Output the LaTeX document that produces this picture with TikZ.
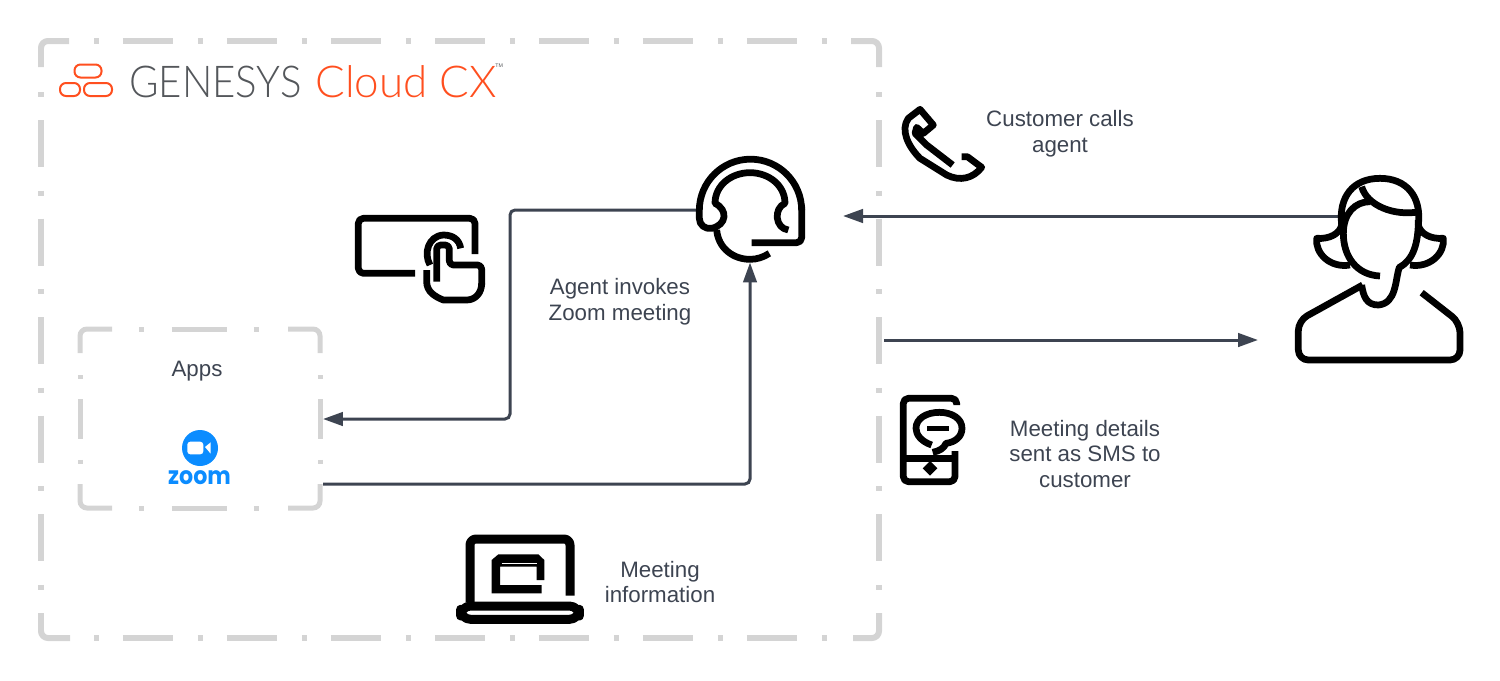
\documentclass[tikz,border=0pt]{standalone}
\usepackage{fontspec}
\setmainfont{Liberation Sans}
\newfontfamily\logofont{Lato Light}
\newfontfamily\zoomfont{Poppins}
\usetikzlibrary{arrows.meta}
\definecolor{framegrey}{HTML}{D4D4D4}
\definecolor{flowgrey}{HTML}{3D4451}
\definecolor{logogrey}{HTML}{54575B}
\definecolor{logoorange}{HTML}{FF4F1F}
\definecolor{zoomblue}{HTML}{0B8CFF}
\tikzset{
  frame/.style={draw=framegrey,line width=.12cm,rounded corners=.14cm},
  framex/.style={draw=framegrey,line width=.12cm,dash pattern=on .1cm off .48cm on 1cm off .5cm},
  framey/.style={draw=framegrey,line width=.12cm,dash pattern=on .1cm off .46cm on .94cm off .472cm},
  appsbox/.style={draw=framegrey,line width=.1cm,rounded corners=.14cm},
  appsx/.style={draw=framegrey,line width=.1cm,dash pattern=on .1cm off .56cm on 1.1cm off .54cm},
  appsy/.style={draw=framegrey,line width=.1cm,dash pattern=on .08cm off .4cm on .8cm off .42cm},
  flow/.style={draw=flowgrey,line width=.06cm,rounded corners=.1cm,-{Triangle[length=.4cm,width=.27cm]}},
  icon/.style={draw=black,line width=.135cm,line join=round,line cap=butt},
  caption/.style={text=flowgrey,align=center,font=\fontsize{12.7}{14.74}\selectfont},
  pill/.style={draw=logoorange,line width=.04cm,rounded corners=.12cm},
  anchorbox/.style={inner sep=0pt,outer sep=0pt}
}
\begin{document}
\begin{tikzpicture}[x=.02cm,y=-.02cm]
\useasboundingbox (0,0) rectangle (1500,680);
% outer frame
\draw[frame] (41,67) -- (41,41) -- (69,41);
\draw[frame] (851,41) -- (879,41) -- (879,67);
\draw[frame] (41,613) -- (41,638) -- (70,638);
\draw[frame] (853,638) -- (879,638) -- (879,613);
\draw[framex] (94,41) -- (827,41);
\draw[framex] (94,638) -- (827,638);
\draw[framey] (41,92) -- (41,590);
\draw[framey] (879,92) -- (879,590);
% apps frame
\draw[appsbox] (80,353) -- (80,329) -- (112,329);
\draw[appsbox] (288,329) -- (320,329) -- (320,353);
\draw[appsbox] (80,484) -- (80,508) -- (112,508);
\draw[appsbox] (288,508) -- (320,508) -- (320,484);
\draw[appsx] (139,329) -- (260,329);
\draw[appsx] (139,508) -- (260,508);
\draw[appsy] (80,375) -- (80,464);
\draw[appsy] (320,375) -- (320,464);
% nodes for the connectors
\node[anchorbox,minimum width=4.8cm,minimum height=3.58cm] (apps) at (200,419) {};
\node[anchorbox,minimum width=2.06cm,minimum height=2.06cm] (agent) at (750,210) {};
\coordinate (turn) at (510,419);
\coordinate (appsout) at (323,484);
\coordinate (custout) at (1338,216);
\coordinate (agentin) at (843,216);
\coordinate (smsout) at (884,340);
\coordinate (custin) at (1258,340);
\draw[flow,shorten >=.06cm] (agent.west) -| (turn) -- (apps.east);
\draw[flow,shorten >=.02cm] (appsout) -| (agent.south);
\draw[flow] (custout) -- (agentin);
\draw[flow] (smsout) -- (custin);
% logo
\draw[pill] (74.5,64.5) rectangle (101.5,77.5);
\draw[pill] (60,83) rectangle (80,96);
\draw[pill] (84,83) rectangle (112,96);
\node[anchor=base west,inner sep=0pt,xscale=.915,text=logogrey,font=\logofont\fontsize{25}{25}\selectfont] (genesys) at (129,97) {GENESYS};
\node[anchor=base west,inner sep=0pt,text=logoorange,font=\logofont\fontsize{25}{25}\selectfont] (cloudcx) at (315,97) {Cloud CX};
\node[anchor=west,inner sep=0pt,text=logogrey,font=\fontsize{3}{3}\selectfont] (tmark) at (495,66) {TM};
% texts
\node[caption] (callstext) at (1060,134) {Customer calls\\agent};
\node[caption] (invoketext) at (620,302) {Agent invokes\\Zoom meeting};
\node[caption] (appstext) at (197,371) {Apps};
\node[caption] (smstext) at (1085,454) {Meeting details\\sent as SMS to\\customer};
\node[caption] (infotext) at (660,582) {Meeting\\information};
% zoom
\fill[zoomblue] (200,448) circle (18);
\fill[white,rounded corners=.06cm] (187.3,441.7) rectangle (203.3,454.3);
\fill[white] (205,447) -- (210.7,442.3) -- (210.7,453.7) -- cycle;
\node[inner sep=0pt,anchor=base,xscale=.9,text=zoomblue,font=\zoomfont\bfseries\fontsize{14}{14}\selectfont] (zoomtext) at (199.5,484) {zoom};
% headset
\begin{scope}[shift={(340,150)},scale=1/3]
\draw[icon,rounded corners=.1cm] (1235,278) -- (1385,278) -- (1385,170);
\draw[icon] (1385,181) arc[start angle=0,end angle=-180,radius=153.5]
  -- (1078,205) .. controls (1078,225) and (1095,238) .. (1115,235)
  .. controls (1160,225) and (1165,180) .. (1125,160)
  .. controls (1125,105) and (1175,68) .. (1230,68)
  .. controls (1285,68) and (1335,105) .. (1335,160)
  .. controls (1300,175) and (1305,235) .. (1345,240);
\draw[icon] (1130,240) .. controls (1135,295) and (1180,328) .. (1230,328)
  .. controls (1250,328) and (1270,322) .. (1288,310);
\end{scope}
% touch screen
\begin{scope}[shift={(340,150)},scale=1/3]
\draw[icon,rounded corners=.1cm] (225,370) -- (55,370) -- (55,205) -- (405,205) -- (405,312);
\draw[icon] (270,345) .. controls (250,310) and (265,258) .. (310,255)
  .. controls (340,255) and (358,270) .. (362,295);
\draw[icon,rounded corners=.08cm] (290,395) -- (290,285) -- (328,285) -- (328,345) -- (425,345) -- (425,405);
\draw[icon] (425,400) .. controls (425,430) and (405,450) .. (380,450)
  -- (310,450) .. controls (285,440) and (260,425) .. (260,395) -- (260,360);
\end{scope}
% customer
\node[anchorbox,minimum width=3.32cm,minimum height=3.7cm] (customer) at (1380,269.5) {};
\begin{scope}[shift={(1280,170)},scale=1/3]
\draw[icon] (185,165) .. controls (175,80) and (220,25) .. (300,25)
  .. controls (380,25) and (425,80) .. (415,165)
  .. controls (420,190) and (450,208) .. (490,205)
  .. controls (495,250) and (450,295) .. (390,285);
\draw[icon] (185,165) .. controls (180,190) and (150,208) .. (110,205)
  .. controls (105,250) and (150,295) .. (210,285);
\draw[icon] (300,318) .. controls (230,315) and (190,260) .. (190,190)
  .. controls (190,130) and (225,95) .. (270,95);
\draw[icon] (245,50) .. controls (260,105) and (340,140) .. (420,125);
\draw[icon] (415,150) .. controls (415,220) and (400,270) .. (358,292)
  .. controls (345,330) and (350,400) .. (295,405)
  .. controls (260,405) and (250,380) .. (245,345);
\draw[icon,rounded corners=.2cm] (248,345) -- (55,452) -- (55,570) -- (540,570) -- (540,458) -- (425,368);
\end{scope}
% phone
\begin{scope}[shift={(880,90)},scale=1/3]
\draw[icon] (218,225) -- (140,165) -- (105,130) -- (110,112) -- (130,130) -- (160,105) -- (120,58) -- (85,85)
  .. controls (60,120) and (85,170) .. (120,205) -- (200,255)
  .. controls (240,275) and (280,265) .. (305,232) -- (262,200) -- (245,200);
\end{scope}
% sms phone
\begin{scope}[shift={(880,385)},scale=1/3]
\draw[icon,rounded corners=.1cm] (230,60) -- (230,40) -- (70,40) -- (70,290) -- (225,290) -- (225,198);
\draw[icon] (72,220) -- (225,220);
\fill[black] (150,228) -- (172,250) -- (150,272) -- (128,250) -- cycle;
\draw[icon] (155,180) .. controls (125,170) and (108,150) .. (108,130)
  .. controls (108,100) and (140,82) .. (178,82)
  .. controls (215,82) and (246,100) .. (246,130)
  .. controls (246,155) and (225,172) .. (198,175)
  .. controls (192,190) and (178,198) .. (158,202);
\fill[black] (140,122) rectangle (208,138);
\end{scope}
% laptop
\begin{scope}[shift={(440,525)},scale=1/3]
\draw[icon,line width=.18cm,rounded corners=.12cm] (90,232) -- (90,42) -- (390,42) -- (390,212);
\draw[icon,line width=.18cm,rounded corners=.2cm] (62,243) rectangle (418,283);
\fill[black] (155,205) -- (155,105) -- (175,88) -- (295,88) -- (313,105) -- (313,165) -- (290,165)
  -- (290,125) -- (180,125) -- (180,180) -- (305,180) -- (305,205) -- cycle;
\draw[white,line width=.03cm] (185,115) -- (290,115);
\end{scope}
\end{tikzpicture}
\end{document}
